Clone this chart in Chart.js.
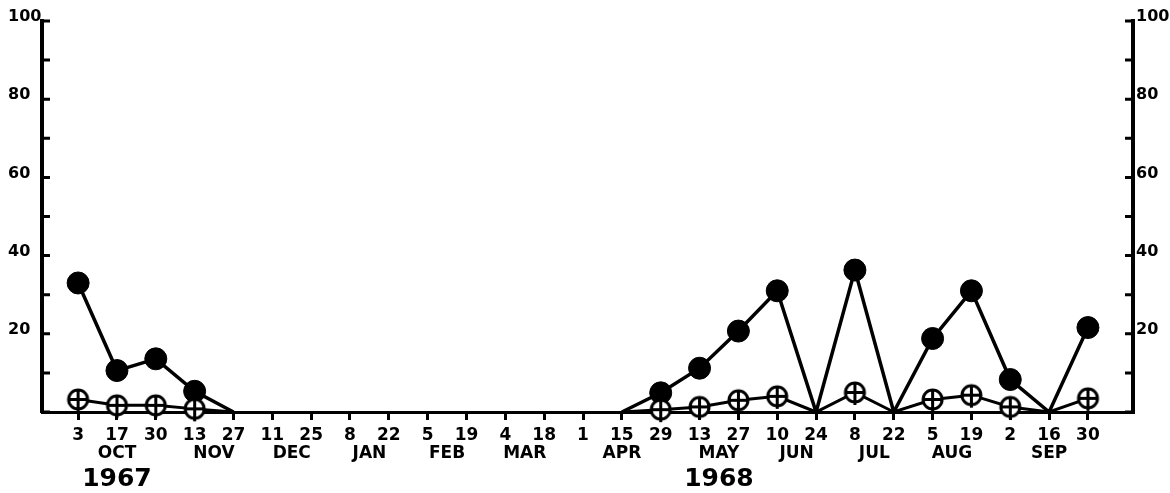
<!DOCTYPE html>
<html>
<head>
<meta charset="utf-8">
<script src="https://cdn.jsdelivr.net/npm/chart.js@4"></script>
<style>
  html, body { margin: 0; padding: 0; background: #fff; }
  #wrap { width: 1170px; height: 493px; position: relative; }
</style>
</head>
<body>
<div id="wrap"><canvas id="chart"></canvas></div>
<script>
// Sampling dates, every two weeks, Oct 1967 - Sep 1968
const tickDays = ['3', '17', '30', '13', '27', '11', '25', '8', '22', '5', '19', '4', '18', '1',
  '15', '29', '13', '27', '10', '24', '8', '22', '5', '19', '2', '16', '30'];
const tickMonths = ['OCT', 'OCT', 'OCT', 'NOV', 'NOV', 'DEC', 'DEC', 'JAN', 'JAN', 'FEB', 'FEB', 'MAR', 'MAR', 'APR',
  'APR', 'APR', 'MAY', 'MAY', 'JUN', 'JUN', 'JUL', 'JUL', 'AUG', 'AUG', 'SEP', 'SEP', 'SEP'];
const yearLabels = ['1967', '1968'];
const yearUnderMonth = ['OCT', 'MAY'];

// Filled circles (null = no sample)
const filledValues = [33, 10.6, 13.6, 5.3, 0, null, null, null, null, null, null, null, null, null,
  0, 4.9, 11.2, 20.7, 31, 0, 36.3, 0, 18.8, 31, 8.3, 0, 21.6];
// Open crossed circles
const openValues = [3.2, 1.7, 1.7, 0.8, 0, null, null, null, null, null, null, null, null, null,
  0, 0.6, 1.3, 3, 4, 0, 5, 0, 3.2, 4.3, 1.3, 0, 3.5];

const FONT = 'DejaVu Sans';

function crossedCircle(r) {
  const c = document.createElement('canvas');
  const s = Math.ceil(2 * r + 10);
  c.width = s; c.height = s;
  const g = c.getContext('2d');
  const m = s / 2;
  g.fillStyle = '#fff';
  g.strokeStyle = '#000';
  g.lineWidth = 3;
  g.beginPath(); g.arc(m, m, r, 0, Math.PI * 2); g.fill(); g.stroke();
  g.beginPath();
  g.moveTo(m, m - r); g.lineTo(m, m + r + 3);
  g.moveTo(m - r, m); g.lineTo(m + r, m);
  g.stroke();
  return c;
}

// inward tick marks on the value axes, month and year captions under the date axis
const axisDecor = {
  id: 'axisDecor',
  afterDraw(chart) {
    const { ctx, chartArea, scales } = chart;
    ctx.save();
    ctx.strokeStyle = '#000';
    ctx.lineWidth = 3;
    scales.y.ticks.forEach(t => {
      const py = scales.y.getPixelForValue(t.value);
      ctx.beginPath();
      ctx.moveTo(chartArea.left, py); ctx.lineTo(chartArea.left + 8, py);
      ctx.moveTo(chartArea.right - 8, py); ctx.lineTo(chartArea.right, py);
      ctx.stroke();
    });

    const x = scales.x;
    const centres = {};
    tickMonths.forEach((m, i) => {
      if (!centres[m]) centres[m] = { first: i, last: i };
      centres[m].last = i;
    });
    ctx.fillStyle = '#000';
    ctx.textAlign = 'center';
    ctx.textBaseline = 'middle';
    ctx.font = 'bold 17px "' + FONT + '"';
    Object.keys(centres).forEach(m => {
      const c = centres[m];
      ctx.fillText(m, x.getPixelForValue((c.first + c.last) / 2), chartArea.bottom + 42);
    });
    ctx.font = 'bold 25px "' + FONT + '"';
    yearLabels.forEach((y, i) => {
      const c = centres[yearUnderMonth[i]];
      ctx.fillText(y, x.getPixelForValue((c.first + c.last) / 2), chartArea.bottom + 67);
    });
    ctx.restore();
  }
};

const valueTicks = {
  stepSize: 10,
  color: '#000',
  font: { family: FONT, size: 16, weight: 'bold' },
  labelOffset: -4,
  callback: v => (v > 0 && v % 20 === 0) ? String(v) : ''
};

new Chart(document.getElementById('chart'), {
  type: 'line',
  data: {
    datasets: [
      {
        label: 'open',
        data: openValues.map((v, i) => ({ x: i, y: v })),
        borderColor: '#000',
        borderWidth: 3,
        pointStyle: crossedCircle(9.5),
        pointRadius: ctx => ctx.raw && ctx.raw.y === 0 ? 0 : 9,
        clip: false,
        spanGaps: false
      },
      {
        label: 'filled',
        data: filledValues.map((v, i) => ({ x: i, y: v })),
        borderColor: '#000',
        borderWidth: 3.5,
        pointStyle: 'circle',
        pointBackgroundColor: '#000',
        pointBorderColor: '#000',
        pointBorderWidth: 1,
        pointRadius: ctx => ctx.raw && ctx.raw.y === 0 ? 0 : 11,
        clip: false,
        spanGaps: false
      }
    ]
  },
  options: {
    responsive: true,
    maintainAspectRatio: false,
    animation: false,
    events: [],
    layout: { padding: { top: 21, left: 8, right: 0, bottom: 0 } },
    plugins: { legend: { display: false }, tooltip: { enabled: false } },
    scales: {
      x: {
        type: 'linear',
        min: -0.93,
        max: 27.16,
        afterBuildTicks: s => { s.ticks = tickDays.map((d, i) => ({ value: i })); },
        afterFit: s => { s.height = 81; },
        grid: { drawOnChartArea: false, drawTicks: true, tickLength: 8, lineWidth: 3, color: '#000' },
        border: { display: true, width: 3, color: '#000' },
        ticks: {
          autoSkip: false,
          maxRotation: 0,
          padding: 5,
          color: '#000',
          font: { family: FONT, size: 17, weight: 'bold' },
          callback: (v, i) => tickDays[i]
        }
      },
      y: {
        position: 'left',
        min: 0,
        max: 100,
        afterFit: s => { s.width = 34; },
        grid: { display: false, drawTicks: false },
        border: { display: true, width: 4, color: '#000' },
        ticks: Object.assign({ crossAlign: 'far', padding: 0 }, valueTicks)
      },
      y2: {
        position: 'right',
        display: true,
        min: 0,
        max: 100,
        afterFit: s => { s.width = 37; },
        grid: { display: false, drawTicks: false },
        border: { display: true, width: 4, color: '#000' },
        ticks: Object.assign({ crossAlign: 'near', padding: 3 }, valueTicks)
      }
    }
  },
  plugins: [axisDecor]
});
</script>
</body>
</html>
